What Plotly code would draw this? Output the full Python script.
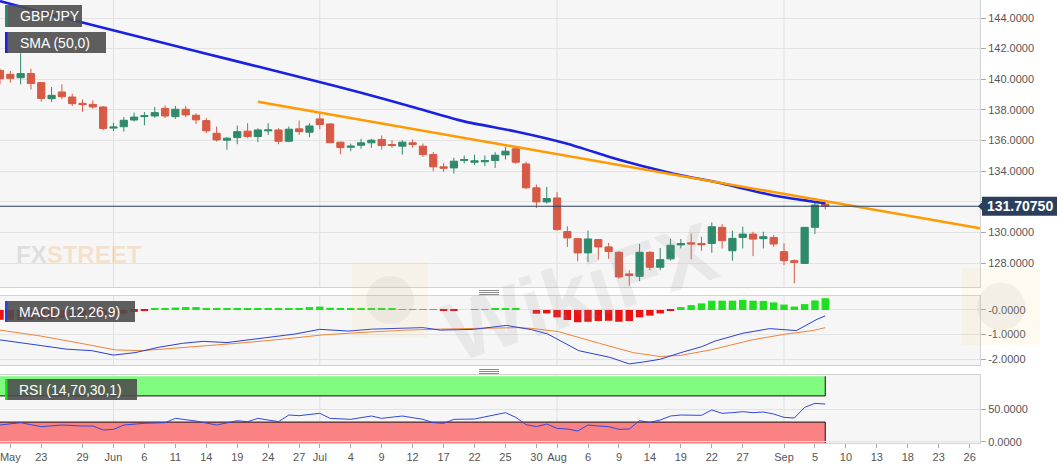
import numpy as np
import pandas as pd
import plotly.graph_objects as go

# ---------------- data ----------------
first_date = "2019-05-17"
opens = [140.58, 140.32, 140.10, 140.37, 139.78, 138.73, 139.17, 138.84, 138.43, 138.36,
         138.19, 136.81, 136.90, 137.34, 137.56, 137.60, 138.10, 137.56, 138.04, 137.65,
         137.30, 136.47, 136.02, 136.19, 136.61, 136.26, 136.63, 136.69, 135.95, 136.76,
         136.54, 137.41, 137.08, 135.89, 135.56, 135.69, 135.85, 136.07, 135.74, 135.63,
         135.85, 135.63, 135.08, 134.28, 134.21, 134.69, 134.58, 134.61, 134.69, 135.06,
         135.46, 134.47, 132.91, 131.99, 132.25, 130.05, 129.59, 128.66, 129.53, 129.05,
         128.70, 127.29, 127.13, 128.70, 127.72, 128.27, 129.18, 129.32, 129.28, 129.28,
         130.33, 128.80, 129.67, 129.89, 129.59, 129.67, 128.74, 128.15, 127.97, 130.33,
         131.85]
highs = [140.70, 140.54, 141.70, 140.69, 139.80, 139.49, 139.67, 139.06, 138.69, 138.62,
         138.25, 137.16, 137.53, 137.82, 137.86, 138.19, 138.30, 138.26, 138.26, 137.78,
         137.46, 136.91, 136.21, 136.98, 137.13, 136.80, 137.13, 136.80, 136.91, 137.30,
         137.13, 137.78, 137.13, 135.93, 135.80, 136.11, 136.11, 136.33, 136.02, 136.02,
         136.07, 135.80, 135.24, 134.54, 134.87, 135.02, 135.08, 135.02, 135.24, 135.59,
         135.63, 134.61, 133.12, 132.97, 132.62, 130.40, 129.64, 130.12, 129.57, 129.31,
         128.77, 127.53, 129.25, 128.77, 128.98, 129.59, 129.57, 129.93, 129.72, 130.65,
         130.54, 130.11, 130.37, 130.04, 130.04, 129.83, 129.28, 128.24, 130.33, 132.00,
         131.98]
lows = [139.67, 139.78, 139.67, 139.34, 138.54, 138.51, 138.69, 138.25, 137.88, 138.08,
        136.66, 136.62, 136.58, 137.23, 136.99, 137.49, 137.47, 137.41, 137.52, 137.08,
        136.47, 135.93, 135.39, 135.76, 136.15, 135.89, 136.37, 135.76, 135.89, 136.37,
        136.21, 136.74, 135.82, 135.10, 135.30, 135.46, 135.52, 135.41, 135.52, 135.08,
        135.52, 134.93, 134.00, 133.95, 133.84, 134.50, 134.39, 134.32, 134.21, 134.76,
        134.47, 132.84, 131.60, 131.88, 130.12, 129.05, 128.11, 128.07, 128.22, 128.27,
        126.96, 126.52, 126.81, 127.53, 127.53, 128.16, 128.96, 128.24, 128.80, 128.67,
        128.95, 128.15, 128.95, 128.45, 128.95, 129.06, 127.86, 126.67, 127.93, 129.89,
        131.50]
closes = [140.04, 140.06, 140.37, 139.73, 138.75, 138.95, 138.86, 138.41, 138.34, 138.19,
          136.79, 136.88, 137.32, 137.53, 137.62, 137.82, 137.60, 138.04, 137.67, 137.35,
          136.63, 136.04, 136.15, 136.58, 136.26, 136.69, 136.69, 135.95, 136.74, 136.58,
          136.95, 137.04, 135.86, 135.54, 135.63, 135.85, 136.02, 135.67, 135.67, 135.89,
          135.74, 135.08, 134.28, 134.19, 134.65, 134.76, 134.67, 134.69, 135.04, 135.30,
          134.58, 132.91, 131.99, 132.21, 130.18, 129.64, 128.66, 129.57, 129.05, 128.75,
          127.09, 127.18, 128.70, 127.72, 128.22, 129.16, 129.27, 129.24, 129.19, 130.37,
          129.46, 129.61, 129.89, 129.56, 129.72, 129.24, 128.15, 128.04, 130.33, 131.79,
          131.71]
last_price = 131.7075
last_price_text = "131.70750"

# SMA(50) read at sampled bars (bar number from first_date)
sma_bars = [0, 5, 10, 15, 20, 25, 30, 35, 40, 45, 50, 55, 60, 65, 70, 75, 80]
sma_vals = [145.10, 144.22, 143.37, 142.52, 141.67, 140.83, 139.98, 139.12, 138.19,
            137.25, 136.59, 135.79, 134.74, 133.88, 133.19, 132.41, 131.90]

# Drawn trend line
trend_dates = ["2019-06-21", "2019-09-27"]
trend_vals = [138.53, 130.27]

# MACD (12,26,9)
macd_hist = [-0.40, -0.40, -0.40, -0.40, -0.40, -0.36, -0.32, -0.28, -0.25, -0.24,
             -0.22, -0.21, -0.15, -0.08, -0.02, 0.05, 0.05, 0.10, 0.12, 0.12,
             0.06, 0.05, 0.05, 0.05, 0.05, 0.06, 0.06, 0.06, 0.07, 0.08,
             0.12, 0.14, 0.09, 0.05, 0.05, 0.05, 0.05, 0.05, 0.05, 0.04,
             0.04, 0.03, 0.01, -0.03, -0.03, 0.0, 0.01, 0.02, 0.05, 0.08,
             0.05, 0.0, -0.15, -0.14, -0.30, -0.41, -0.50, -0.48, -0.45, -0.44,
             -0.48, -0.45, -0.30, -0.23, -0.14, -0.02, 0.12, 0.20, 0.27, 0.38,
             0.38, 0.38, 0.41, 0.38, 0.37, 0.31, 0.22, 0.14, 0.24, 0.39,
             0.48]
macd_bars = [0, 2, 4, 6.5, 8.9, 11, 13.1, 15.4, 17.7, 19.7, 22, 24, 26.3, 28.6, 31,
             33.8, 36.1, 38.7, 41, 42.7, 45.9, 49.1, 51.5, 53.1, 56.1, 59.1, 61, 62.4,
             64, 66, 68, 69.3, 72, 74.6, 77.2, 79.2, 80]
macd_vals = [-1.22, -1.33, -1.46, -1.60, -1.66, -1.84, -1.74, -1.52, -1.36, -1.28, -1.33,
             -1.22, -1.11, -0.98, -0.79, -0.86, -0.78, -0.75, -0.72, -0.82, -0.79, -0.63,
             -0.80, -0.98, -1.66, -1.93, -2.20, -2.12, -2.01, -1.74, -1.50, -1.27, -0.95,
             -0.76, -0.84, -0.38, -0.24]
signal_bars = [0, 3.9, 8.2, 11.2, 13.8, 18.1, 23, 27.9, 31.2, 34.5, 39.4, 42.7, 47.6,
               50.2, 51.5, 54.1, 58.1, 61.4, 64, 66, 68.9, 72.9, 76.2, 78.8, 80]
signal_vals = [-0.82, -1.06, -1.39, -1.63, -1.66, -1.52, -1.36, -1.17, -1.02, -0.93, -0.82,
               -0.78, -0.75, -0.72, -0.75, -0.88, -1.36, -1.74, -1.90, -1.85, -1.63, -1.22,
               -0.98, -0.84, -0.72]

# RSI (14,70,30,1)
rsi_bars = [0, 2, 4, 6, 8, 9, 10, 11, 12, 14, 16, 17, 19, 21, 23, 24, 25, 27, 28, 29,
            31, 32, 34, 36, 37, 39, 41, 42, 43, 44, 46, 47, 49, 50, 51, 52, 53, 54, 55,
            56, 57, 58, 59, 60, 61, 62, 63, 64, 65, 66, 68, 69, 70, 71, 72, 73, 74, 75,
            76, 77, 78, 79, 80]
rsi_vals = [25.5, 29.1, 23.0, 25.5, 24.0, 24.0, 17.9, 18.9, 25.5, 28.1, 29.1, 35.7, 31.6,
            25.5, 32.1, 30.6, 35.7, 30.6, 40.8, 39.8, 43.4, 35.7, 34.2, 39.3, 35.7, 39.3,
            34.2, 29.1, 28.1, 34.2, 34.7, 38.2, 44.4, 37.2, 26.0, 23.0, 27.0, 20.4, 19.4,
            16.4, 25.5, 24.0, 23.0, 18.9, 19.4, 32.1, 29.6, 33.1, 39.3, 40.8, 40.3, 48.5,
            43.4, 44.4, 45.9, 44.4, 45.4, 42.3, 37.2, 36.2, 52.5, 58.6, 57.6]
rsi_upper, rsi_lower, rsi_top = 70, 30, 100

tick_dates = ["2019-05-20", "2019-05-23", "2019-05-29", "2019-06-03", "2019-06-06",
              "2019-06-11", "2019-06-14", "2019-06-19", "2019-06-24", "2019-06-27",
              "2019-07-01", "2019-07-04", "2019-07-09", "2019-07-12", "2019-07-17",
              "2019-07-22", "2019-07-25", "2019-07-30", "2019-08-01", "2019-08-06",
              "2019-08-09", "2019-08-14", "2019-08-19", "2019-08-22", "2019-08-27",
              "2019-09-02", "2019-09-05", "2019-09-10", "2019-09-13", "2019-09-18",
              "2019-09-23", "2019-09-26"]
tick_labels = ["May", "23", "29", "Jun", "6", "11", "14", "19", "24", "27", "Jul", "4",
               "9", "12", "17", "22", "25", "30", "Aug", "6", "9", "14", "19", "22", "27",
               "Sep", "5", "10", "13", "18", "23", "26"]
month_starts = ["2019-06-03", "2019-07-01", "2019-08-01", "2019-09-02"]

price_ticks = [128, 130, 132, 134, 136, 138, 140, 142, 144]
macd_ticks = [0, -1, -2]
rsi_ticks = [0, 50]

# ---------------- helpers ----------------
def bar_of(d):
    return int(np.busday_count(first_date, d))

bars = np.arange(len(closes))
tick_pos = [bar_of(d) for d in tick_dates]
month_pos = [bar_of(d) for d in month_starts]
trend_x = [bar_of(d) for d in trend_dates]

W, H = 1063, 469
ML, MR, MT, MB = 0, 83, 0, 26
PW, PH = W - ML - MR, H - MT - MB

def px_x(px):
    return px / PW

def px_y(py):
    return (PH - py) / PH

GREEN = "#2f8a6c"
RED = "#d65a45"
BG = "#f6f6f6"
GRID = "#e3e3e3"
BORDER = "#d2d2d2"
NAVY = "#2b3f5c"
FONT = "Arial, Liberation Sans, sans-serif"

main_dom = [px_y(287), 1.0]
macd_dom = [px_y(365), px_y(296)]
rsi_dom = [0.0, px_y(375)]
main_rng = [126.433, 145.176]
macd_rng = [-2.245, 0.571]
rsi_rng = [-2.0, 102.0]
x_rng = [0, 95]

fig = go.Figure()

fig.add_trace(go.Candlestick(
    x=bars, open=opens, high=highs, low=lows, close=closes,
    xaxis="x", yaxis="y", whiskerwidth=0,
    increasing=dict(line=dict(color=GREEN, width=1), fillcolor=GREEN),
    decreasing=dict(line=dict(color=RED, width=1), fillcolor=RED),
    showlegend=False, hoverinfo="skip"))

fig.add_trace(go.Scatter(x=sma_bars, y=sma_vals, mode="lines", xaxis="x", yaxis="y",
                         line=dict(color="#1a22e0", width=2.6, shape="spline", smoothing=0.6),
                         showlegend=False, hoverinfo="skip"))
fig.add_trace(go.Scatter(x=trend_x, y=trend_vals, mode="lines", xaxis="x", yaxis="y",
                         line=dict(color="#ff9a00", width=2.4),
                         showlegend=False, hoverinfo="skip"))

hist_colors = ["#1ee01e" if v >= 0 else "#ea1212" for v in macd_hist]
fig.add_trace(go.Bar(x=bars, y=macd_hist, marker=dict(color=hist_colors, line=dict(width=0)),
                     width=0.72, xaxis="x2", yaxis="y2", showlegend=False, hoverinfo="skip"))
fig.add_trace(go.Scatter(x=signal_bars, y=signal_vals, mode="lines", xaxis="x2", yaxis="y2",
                         line=dict(color="#f0843a", width=1), showlegend=False, hoverinfo="skip"))
fig.add_trace(go.Scatter(x=macd_bars, y=macd_vals, mode="lines", xaxis="x2", yaxis="y2",
                         line=dict(color="#2a3fd6", width=1), showlegend=False, hoverinfo="skip"))

fig.add_trace(go.Scatter(x=rsi_bars, y=rsi_vals, mode="lines", xaxis="x3", yaxis="y3",
                         line=dict(color="#3048e0", width=1), showlegend=False, hoverinfo="skip"))

shapes = []
# RSI bands
last_bar = int(bars[-1])
shapes.append(dict(type="rect", xref="x3", yref="y3", x0=0, x1=last_bar, y0=rsi_upper, y1=rsi_top,
                   fillcolor="#80fb80", line=dict(width=0), layer="below"))
shapes.append(dict(type="rect", xref="x3", yref="y3", x0=0, x1=last_bar, y0=rsi_rng[0], y1=rsi_lower,
                   fillcolor="#fa8282", line=dict(width=0), layer="below"))
for lvl in (rsi_upper, rsi_lower):
    shapes.append(dict(type="line", xref="x3", yref="y3", x0=0, x1=last_bar, y0=lvl, y1=lvl,
                       line=dict(color="#111", width=1), layer="below"))
shapes.append(dict(type="line", xref="x3", yref="y3", x0=last_bar, x1=last_bar, y0=rsi_upper, y1=rsi_top,
                   line=dict(color="#111", width=1), layer="below"))
shapes.append(dict(type="line", xref="x3", yref="y3", x0=last_bar, x1=last_bar, y0=rsi_rng[0], y1=rsi_lower,
                   line=dict(color="#111", width=1), layer="below"))

# month grid lines
for xa, ya in [("x", "y"), ("x2", "y2"), ("x3", "y3")]:
    for m in month_pos:
        shapes.append(dict(type="line", xref=xa, yref=ya + " domain", x0=m, x1=m, y0=0, y1=1,
                           line=dict(color="#e0e0e0", width=1), layer="below"))

# last price line
shapes.append(dict(type="line", xref="x domain", yref="y", x0=0, x1=1, y0=last_price, y1=last_price,
                   line=dict(color=NAVY, width=1.2), layer="above"))

# last price box with arrow (paper coords derived from price)
def price_to_paper(v):
    return main_dom[0] + (v - main_rng[0]) / (main_rng[1] - main_rng[0]) * (main_dom[1] - main_dom[0])

py_c = price_to_paper(last_price)
half_h = 9.5 / PH
shapes.append(dict(type="rect", xref="paper", yref="paper", x0=px_x(982), x1=px_x(1057),
                   y0=py_c - half_h, y1=py_c + half_h, fillcolor=NAVY, line=dict(width=0), layer="above"))
shapes.append(dict(type="path", xref="paper", yref="paper",
                   path=f"M {px_x(978)},{py_c} L {px_x(982.5)},{py_c + 4.5 / PH} L {px_x(982.5)},{py_c - 4.5 / PH} Z",
                   fillcolor=NAVY, line=dict(width=0), layer="above"))

# indicator legend boxes
boxes = [  # (x0, x1, y0, y1, accent)
    (5, 82, 5, 27, GREEN),
    (5, 106, 32, 53, "#1a22e0"),
    (5, 135, 301, 322, "#2a3fe6"),
    (5, 137, 379, 400, "#22dd22"),
]
for x0, x1, y0, y1, acc in boxes:
    shapes.append(dict(type="rect", xref="paper", yref="paper", x0=px_x(x0), x1=px_x(x1),
                       y0=px_y(y1), y1=px_y(y0), fillcolor="rgba(78,78,78,0.9)", line=dict(width=0),
                       layer="above"))
    shapes.append(dict(type="rect", xref="paper", yref="paper", x0=px_x(x0), x1=px_x(x0 + 2.5),
                       y0=px_y(y1), y1=px_y(y0), fillcolor=acc, line=dict(width=0), layer="above"))

# pane grips
for gy in (290.5, 369.5):
    for k in range(3):
        shapes.append(dict(type="line", xref="paper", yref="paper", x0=px_x(479), x1=px_x(499),
                           y0=px_y(gy + 2 * k), y1=px_y(gy + 2 * k),
                           line=dict(color="#8a8a8a", width=1), layer="above"))

# faint watermark logos
for lx0, ly0, lx1, ly1 in [(352, 262, 428, 338), (962, 268, 1040, 345)]:
    shapes.append(dict(type="rect", xref="paper", yref="paper", x0=px_x(lx0), x1=px_x(lx1),
                       y0=px_y(ly1), y1=px_y(ly0), fillcolor="rgba(245,205,110,0.10)",
                       line=dict(width=0), layer="above"))
    cx, cy = (lx0 + lx1) / 2, (ly0 + ly1) / 2
    shapes.append(dict(type="circle", xref="paper", yref="paper", x0=px_x(cx - 24), x1=px_x(cx + 24),
                       y0=px_y(cy + 24), y1=px_y(cy - 24), fillcolor="rgba(150,150,150,0.10)",
                       line=dict(width=0), layer="above"))

annotations = [
    dict(xref="paper", yref="paper", x=px_x(18), y=px_y(16), xanchor="left", yanchor="middle",
         text="GBP/JPY", showarrow=False, font=dict(family=FONT, size=14, color="white")),
    dict(xref="paper", yref="paper", x=px_x(18), y=px_y(42.5), xanchor="left", yanchor="middle",
         text="SMA (50,0)", showarrow=False, font=dict(family=FONT, size=14, color="white")),
    dict(xref="paper", yref="paper", x=px_x(17), y=px_y(311.5), xanchor="left", yanchor="middle",
         text="MACD (12,26,9)", showarrow=False, font=dict(family=FONT, size=14, color="white")),
    dict(xref="paper", yref="paper", x=px_x(17), y=px_y(389.5), xanchor="left", yanchor="middle",
         text="RSI (14,70,30,1)", showarrow=False, font=dict(family=FONT, size=14, color="white")),
    dict(xref="paper", yref="y", x=px_x(1019.5), y=last_price, xanchor="center", yanchor="middle",
         text="<b>" + last_price_text + "</b>", showarrow=False,
         font=dict(family=FONT, size=14, color="white")),
    dict(xref="paper", yref="paper", x=px_x(14), y=px_y(254), xanchor="left", yanchor="middle",
         text="<b><span style='color:rgba(120,120,120,0.45)'>FX</span><span style='color:rgba(236,150,50,0.5)'>STREET</span></b>",
         showarrow=False, font=dict(family="Liberation Sans Narrow, Arial Narrow, Arial, sans-serif",
                                    size=24, color="rgba(120,120,120,0.45)")),
    dict(xref="paper", yref="paper", x=px_x(580), y=px_y(292), xanchor="center", yanchor="middle",
         text="<b>WikiFX</b>", showarrow=False, textangle=-18,
         font=dict(family=FONT, size=84, color="rgba(150,150,150,0.14)")),
]

tickfont = dict(family=FONT, size=11, color="#555")
common_x = dict(range=x_rng, showgrid=False, zeroline=False, showline=True, mirror=True,
                linecolor=BORDER, linewidth=1)
common_y = dict(side="right", showgrid=True, gridcolor=GRID, zeroline=False, showline=True,
                mirror=True, linecolor=BORDER, linewidth=1, ticks="outside", ticklen=5,
                tickcolor="#a8a8a8", tickfont=tickfont, fixedrange=True)

fig.update_layout(
    width=W, height=H, margin=dict(l=ML, r=MR, t=MT, b=MB),
    paper_bgcolor="white", plot_bgcolor=BG, showlegend=False, hovermode=False,
    boxgap=0.3, boxgroupgap=0,
    xaxis=dict(domain=[0, 1], anchor="y", showticklabels=False, ticks="",
               rangeslider=dict(visible=False), **common_x),
    xaxis2=dict(domain=[0, 1], anchor="y2", matches="x", showticklabels=False, ticks="", **common_x),
    xaxis3=dict(domain=[0, 1], anchor="y3", matches="x", tickmode="array", tickvals=tick_pos,
                ticktext=tick_labels, ticks="outside", ticklen=4, tickcolor="#a8a8a8",
                tickfont=tickfont, ticklabeloverflow="allow", **common_x),
    yaxis=dict(domain=main_dom, anchor="x", range=main_rng, tickmode="array", tickvals=price_ticks,
               ticktext=["" if v == 132 else f"{v:.4f}" for v in price_ticks], **common_y),
    yaxis2=dict(domain=macd_dom, anchor="x2", range=macd_rng, tickmode="array", tickvals=macd_ticks,
                ticktext=["-" + f"{abs(v):.4f}" for v in macd_ticks], **common_y),
    yaxis3=dict(domain=rsi_dom, anchor="x3", range=rsi_rng, tickmode="array", tickvals=rsi_ticks,
                ticktext=[f"{v:.4f}" for v in rsi_ticks], **common_y),
    shapes=shapes, annotations=annotations,
)

fig.write_html("out.html", config={"displayModeBar": False},
               post_script="document.body.style.margin='0';document.body.style.overflow='hidden';")
